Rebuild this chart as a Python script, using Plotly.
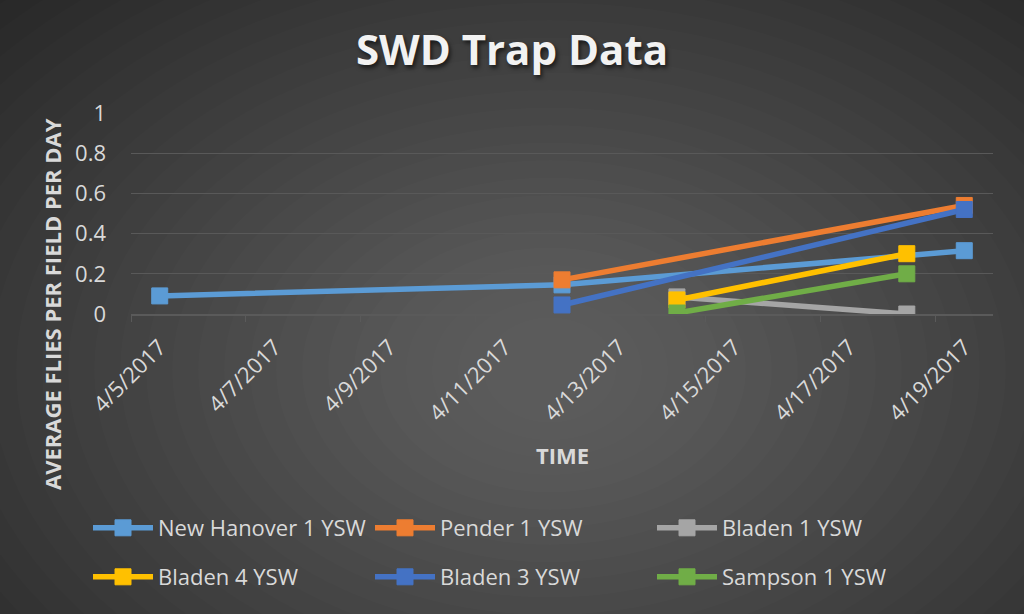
import plotly.graph_objects as go

# data
new_hanover_dates = ["2017-04-05", "2017-04-12", "2017-04-19"]
new_hanover_vals = [0.09, 0.145, 0.315]
pender_dates = ["2017-04-12", "2017-04-19"]
pender_vals = [0.17, 0.54]
bladen1_dates = ["2017-04-14", "2017-04-18"]
bladen1_vals = [0.085, 0.0]
bladen4_dates = ["2017-04-14", "2017-04-18"]
bladen4_vals = [0.07, 0.30]
bladen3_dates = ["2017-04-12", "2017-04-19"]
bladen3_vals = [0.045, 0.52]
sampson_dates = ["2017-04-14", "2017-04-18"]
sampson_vals = [0.005, 0.20]

tick_dates = ["2017-04-05", "2017-04-07", "2017-04-09", "2017-04-11",
              "2017-04-13", "2017-04-15", "2017-04-17", "2017-04-19"]

series = [
    ("New Hanover 1 YSW", new_hanover_dates, new_hanover_vals, "#5B9BD5", "legend"),
    ("Pender 1 YSW", pender_dates, pender_vals, "#ED7D31", "legend"),
    ("Bladen 1 YSW", bladen1_dates, bladen1_vals, "#A5A5A5", "legend"),
    ("Bladen 4 YSW", bladen4_dates, bladen4_vals, "#FFC000", "legend2"),
    ("Bladen 3 YSW", bladen3_dates, bladen3_vals, "#4472C4", "legend2"),
    ("Sampson 1 YSW", sampson_dates, sampson_vals, "#70AD47", "legend2"),
]

FONT = "Open Sans"
TXT = "#d9d9d9"

# plot area in pixels (for placing things in paper coords)
L, R, T, B = 131, 993, 113, 314
W, H = R - L, B - T


def px(x):
    return (x - L) / W


def py(y):
    return (B - y) / H


fig = go.Figure()

for name, d, v, color, leg in series:
    fig.add_trace(go.Scatter(
        x=d, y=v, name=name, mode="lines+markers", legend=leg,
        line=dict(color=color, width=5.5),
        marker=dict(symbol="square", size=16, color=color, line=dict(color=color, width=1)),
    ))

# radial gradient background from stacked ellipses
shapes = []
n = 30
cx, cy = 550, 370
for i in range(n):
    rx = 820 - i * 26
    ry = 560 - i * 17.5
    shapes.append(dict(
        type="circle", xref="paper", yref="paper", layer="below",
        x0=px(cx - rx), x1=px(cx + rx), y0=py(cy + ry), y1=py(cy - ry),
        line=dict(width=0), fillcolor="rgba(255,255,255,0.011)",
    ))

fig.update_layout(
    width=1024, height=614,
    margin=dict(l=L, r=1024 - R, t=T, b=614 - B),
    paper_bgcolor="#232323",
    plot_bgcolor="rgba(0,0,0,0)",
    font=dict(family=FONT, color=TXT),
    shapes=shapes,
    title=dict(text="<b>SWD Trap Data</b>", x=0.5, xref="container", xanchor="center",
               y=1 - 50 / 614, yanchor="middle",
               font=dict(family=FONT, size=42, color="#f2f2f2",
                         shadow="2px 3px 4px rgba(0,0,0,0.6)")),
    xaxis=dict(
        type="date",
        range=["2017-04-04 12:00", "2017-04-19 12:00"],
        tickvals=tick_dates, tickformat="%-m/%-d/%Y", tickangle=-45,
        tickfont=dict(size=22, color=TXT), ticklabelstandoff=10,
        showgrid=False, showline=True, linecolor="#5a5a5a", linewidth=1.5,
        ticks="",
        minor=dict(tick0="2017-04-04 12:00", dtick=2 * 86400000, ticks="outside",
                   ticklen=6, tickcolor="#5a5a5a", showgrid=False),
        zeroline=False,
    ),
    yaxis=dict(
        range=[0, 1], dtick=0.2, tickfont=dict(size=22, color=TXT),
        gridcolor="#595959", gridwidth=1.2, zeroline=False, showline=False,
        ticklabelstandoff=24,
    ),
    legend=dict(orientation="h", xref="container", yref="container",
                x=88 / 1024, y=1 - 528 / 614, xanchor="left", yanchor="middle",
                itemwidth=60, entrywidth=207, entrywidthmode="pixels",
                bgcolor="rgba(0,0,0,0)", font=dict(size=22, color=TXT)),
    legend2=dict(orientation="h", xref="container", yref="container",
                 x=88 / 1024, y=1 - 577 / 614, xanchor="left", yanchor="middle",
                 itemwidth=60, entrywidth=207, entrywidthmode="pixels",
                 bgcolor="rgba(0,0,0,0)", font=dict(size=22, color=TXT)),
    annotations=[
        dict(text="<b>AVERAGE FLIES PER FIELD PER DAY</b>", textangle=-90,
             xref="paper", yref="paper", x=px(52), y=py(304),
             xanchor="center", yanchor="middle", showarrow=False,
             font=dict(size=22, color=TXT)),
        dict(text="<b>TIME</b>", xref="paper", yref="paper", x=px(562), y=py(455),
             xanchor="center", yanchor="middle", showarrow=False,
             font=dict(size=22, color=TXT)),
    ],
)

fig.write_html("out.html", config={"displayModeBar": False},
               post_script="document.body.style.margin='0';")
